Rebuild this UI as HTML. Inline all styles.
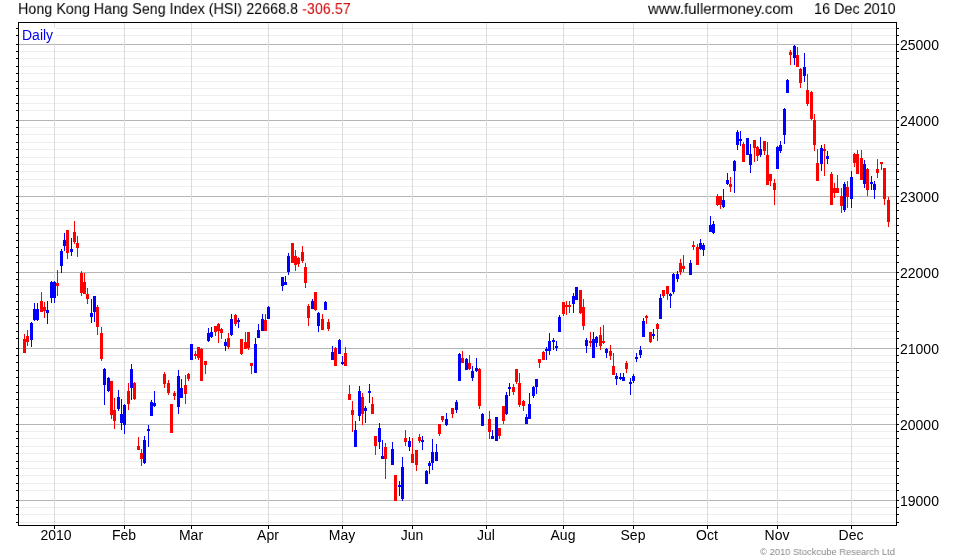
<!DOCTYPE html>
<html><head><meta charset="utf-8"><style>
html,body{margin:0;padding:0;background:#fff;}
body{width:980px;height:560px;position:relative;overflow:hidden;font-family:"Liberation Sans",sans-serif;color:#000;}
svg{position:absolute;left:0;top:0;shape-rendering:crispEdges;}
.t{position:absolute;will-change:transform;font-size:15px;line-height:15px;white-space:nowrap;}
.yl{position:absolute;will-change:transform;left:900px;font-size:14px;line-height:15px;}
.xl{position:absolute;will-change:transform;top:528px;width:60px;text-align:center;font-size:14px;line-height:15px;}
</style></head><body>
<svg width="980" height="560" viewBox="0 0 980 560">
<rect x="19" y="51" width="877" height="1" fill="#eeeeee"/>
<rect x="19" y="58" width="877" height="1" fill="#eeeeee"/>
<rect x="19" y="66" width="877" height="1" fill="#eeeeee"/>
<rect x="19" y="73" width="877" height="1" fill="#eeeeee"/>
<rect x="19" y="81" width="877" height="1" fill="#eeeeee"/>
<rect x="19" y="88" width="877" height="1" fill="#eeeeee"/>
<rect x="19" y="95" width="877" height="1" fill="#eeeeee"/>
<rect x="19" y="103" width="877" height="1" fill="#eeeeee"/>
<rect x="19" y="110" width="877" height="1" fill="#eeeeee"/>
<rect x="19" y="127" width="877" height="1" fill="#eeeeee"/>
<rect x="19" y="134" width="877" height="1" fill="#eeeeee"/>
<rect x="19" y="142" width="877" height="1" fill="#eeeeee"/>
<rect x="19" y="149" width="877" height="1" fill="#eeeeee"/>
<rect x="19" y="157" width="877" height="1" fill="#eeeeee"/>
<rect x="19" y="164" width="877" height="1" fill="#eeeeee"/>
<rect x="19" y="171" width="877" height="1" fill="#eeeeee"/>
<rect x="19" y="179" width="877" height="1" fill="#eeeeee"/>
<rect x="19" y="186" width="877" height="1" fill="#eeeeee"/>
<rect x="19" y="203" width="877" height="1" fill="#eeeeee"/>
<rect x="19" y="210" width="877" height="1" fill="#eeeeee"/>
<rect x="19" y="218" width="877" height="1" fill="#eeeeee"/>
<rect x="19" y="225" width="877" height="1" fill="#eeeeee"/>
<rect x="19" y="233" width="877" height="1" fill="#eeeeee"/>
<rect x="19" y="240" width="877" height="1" fill="#eeeeee"/>
<rect x="19" y="247" width="877" height="1" fill="#eeeeee"/>
<rect x="19" y="255" width="877" height="1" fill="#eeeeee"/>
<rect x="19" y="262" width="877" height="1" fill="#eeeeee"/>
<rect x="19" y="279" width="877" height="1" fill="#eeeeee"/>
<rect x="19" y="286" width="877" height="1" fill="#eeeeee"/>
<rect x="19" y="294" width="877" height="1" fill="#eeeeee"/>
<rect x="19" y="301" width="877" height="1" fill="#eeeeee"/>
<rect x="19" y="309" width="877" height="1" fill="#eeeeee"/>
<rect x="19" y="316" width="877" height="1" fill="#eeeeee"/>
<rect x="19" y="323" width="877" height="1" fill="#eeeeee"/>
<rect x="19" y="331" width="877" height="1" fill="#eeeeee"/>
<rect x="19" y="338" width="877" height="1" fill="#eeeeee"/>
<rect x="19" y="355" width="877" height="1" fill="#eeeeee"/>
<rect x="19" y="362" width="877" height="1" fill="#eeeeee"/>
<rect x="19" y="370" width="877" height="1" fill="#eeeeee"/>
<rect x="19" y="377" width="877" height="1" fill="#eeeeee"/>
<rect x="19" y="385" width="877" height="1" fill="#eeeeee"/>
<rect x="19" y="392" width="877" height="1" fill="#eeeeee"/>
<rect x="19" y="399" width="877" height="1" fill="#eeeeee"/>
<rect x="19" y="407" width="877" height="1" fill="#eeeeee"/>
<rect x="19" y="414" width="877" height="1" fill="#eeeeee"/>
<rect x="19" y="431" width="877" height="1" fill="#eeeeee"/>
<rect x="19" y="438" width="877" height="1" fill="#eeeeee"/>
<rect x="19" y="446" width="877" height="1" fill="#eeeeee"/>
<rect x="19" y="453" width="877" height="1" fill="#eeeeee"/>
<rect x="19" y="461" width="877" height="1" fill="#eeeeee"/>
<rect x="19" y="468" width="877" height="1" fill="#eeeeee"/>
<rect x="19" y="475" width="877" height="1" fill="#eeeeee"/>
<rect x="19" y="483" width="877" height="1" fill="#eeeeee"/>
<rect x="19" y="490" width="877" height="1" fill="#eeeeee"/>
<rect x="19" y="28" width="877" height="1" fill="#eeeeee"/>
<rect x="19" y="35" width="877" height="1" fill="#eeeeee"/>
<rect x="19" y="507" width="877" height="1" fill="#eeeeee"/>
<rect x="19" y="514" width="877" height="1" fill="#eeeeee"/>
<rect x="19" y="522" width="877" height="1" fill="#eeeeee"/>
<rect x="19" y="44" width="877" height="1" fill="#b4b4b4"/>
<rect x="19" y="120" width="877" height="1" fill="#b4b4b4"/>
<rect x="19" y="196" width="877" height="1" fill="#b4b4b4"/>
<rect x="19" y="272" width="877" height="1" fill="#b4b4b4"/>
<rect x="19" y="348" width="877" height="1" fill="#b4b4b4"/>
<rect x="19" y="424" width="877" height="1" fill="#b4b4b4"/>
<rect x="19" y="500" width="877" height="1" fill="#b4b4b4"/>
<rect x="54" y="23" width="1" height="502" fill="#dcdcdc"/>
<rect x="124" y="23" width="1" height="502" fill="#dcdcdc"/>
<rect x="191" y="23" width="1" height="502" fill="#dcdcdc"/>
<rect x="268" y="23" width="1" height="502" fill="#dcdcdc"/>
<rect x="342" y="23" width="1" height="502" fill="#dcdcdc"/>
<rect x="412" y="23" width="1" height="502" fill="#dcdcdc"/>
<rect x="486" y="23" width="1" height="502" fill="#dcdcdc"/>
<rect x="563" y="23" width="1" height="502" fill="#dcdcdc"/>
<rect x="633" y="23" width="1" height="502" fill="#dcdcdc"/>
<rect x="707" y="23" width="1" height="502" fill="#dcdcdc"/>
<rect x="777" y="23" width="1" height="502" fill="#dcdcdc"/>
<rect x="851" y="23" width="1" height="502" fill="#dcdcdc"/>
<rect x="19" y="28" width="37" height="15" fill="#fff"/>
<rect x="16" y="51" width="2" height="1" fill="#000"/>
<rect x="897" y="51" width="2" height="1" fill="#000"/>
<rect x="16" y="58" width="2" height="1" fill="#000"/>
<rect x="897" y="58" width="2" height="1" fill="#000"/>
<rect x="16" y="66" width="2" height="1" fill="#000"/>
<rect x="897" y="66" width="2" height="1" fill="#000"/>
<rect x="16" y="73" width="2" height="1" fill="#000"/>
<rect x="897" y="73" width="2" height="1" fill="#000"/>
<rect x="16" y="81" width="2" height="1" fill="#000"/>
<rect x="897" y="81" width="2" height="1" fill="#000"/>
<rect x="16" y="88" width="2" height="1" fill="#000"/>
<rect x="897" y="88" width="2" height="1" fill="#000"/>
<rect x="16" y="95" width="2" height="1" fill="#000"/>
<rect x="897" y="95" width="2" height="1" fill="#000"/>
<rect x="16" y="103" width="2" height="1" fill="#000"/>
<rect x="897" y="103" width="2" height="1" fill="#000"/>
<rect x="16" y="110" width="2" height="1" fill="#000"/>
<rect x="897" y="110" width="2" height="1" fill="#000"/>
<rect x="16" y="127" width="2" height="1" fill="#000"/>
<rect x="897" y="127" width="2" height="1" fill="#000"/>
<rect x="16" y="134" width="2" height="1" fill="#000"/>
<rect x="897" y="134" width="2" height="1" fill="#000"/>
<rect x="16" y="142" width="2" height="1" fill="#000"/>
<rect x="897" y="142" width="2" height="1" fill="#000"/>
<rect x="16" y="149" width="2" height="1" fill="#000"/>
<rect x="897" y="149" width="2" height="1" fill="#000"/>
<rect x="16" y="157" width="2" height="1" fill="#000"/>
<rect x="897" y="157" width="2" height="1" fill="#000"/>
<rect x="16" y="164" width="2" height="1" fill="#000"/>
<rect x="897" y="164" width="2" height="1" fill="#000"/>
<rect x="16" y="171" width="2" height="1" fill="#000"/>
<rect x="897" y="171" width="2" height="1" fill="#000"/>
<rect x="16" y="179" width="2" height="1" fill="#000"/>
<rect x="897" y="179" width="2" height="1" fill="#000"/>
<rect x="16" y="186" width="2" height="1" fill="#000"/>
<rect x="897" y="186" width="2" height="1" fill="#000"/>
<rect x="16" y="203" width="2" height="1" fill="#000"/>
<rect x="897" y="203" width="2" height="1" fill="#000"/>
<rect x="16" y="210" width="2" height="1" fill="#000"/>
<rect x="897" y="210" width="2" height="1" fill="#000"/>
<rect x="16" y="218" width="2" height="1" fill="#000"/>
<rect x="897" y="218" width="2" height="1" fill="#000"/>
<rect x="16" y="225" width="2" height="1" fill="#000"/>
<rect x="897" y="225" width="2" height="1" fill="#000"/>
<rect x="16" y="233" width="2" height="1" fill="#000"/>
<rect x="897" y="233" width="2" height="1" fill="#000"/>
<rect x="16" y="240" width="2" height="1" fill="#000"/>
<rect x="897" y="240" width="2" height="1" fill="#000"/>
<rect x="16" y="247" width="2" height="1" fill="#000"/>
<rect x="897" y="247" width="2" height="1" fill="#000"/>
<rect x="16" y="255" width="2" height="1" fill="#000"/>
<rect x="897" y="255" width="2" height="1" fill="#000"/>
<rect x="16" y="262" width="2" height="1" fill="#000"/>
<rect x="897" y="262" width="2" height="1" fill="#000"/>
<rect x="16" y="279" width="2" height="1" fill="#000"/>
<rect x="897" y="279" width="2" height="1" fill="#000"/>
<rect x="16" y="286" width="2" height="1" fill="#000"/>
<rect x="897" y="286" width="2" height="1" fill="#000"/>
<rect x="16" y="294" width="2" height="1" fill="#000"/>
<rect x="897" y="294" width="2" height="1" fill="#000"/>
<rect x="16" y="301" width="2" height="1" fill="#000"/>
<rect x="897" y="301" width="2" height="1" fill="#000"/>
<rect x="16" y="309" width="2" height="1" fill="#000"/>
<rect x="897" y="309" width="2" height="1" fill="#000"/>
<rect x="16" y="316" width="2" height="1" fill="#000"/>
<rect x="897" y="316" width="2" height="1" fill="#000"/>
<rect x="16" y="323" width="2" height="1" fill="#000"/>
<rect x="897" y="323" width="2" height="1" fill="#000"/>
<rect x="16" y="331" width="2" height="1" fill="#000"/>
<rect x="897" y="331" width="2" height="1" fill="#000"/>
<rect x="16" y="338" width="2" height="1" fill="#000"/>
<rect x="897" y="338" width="2" height="1" fill="#000"/>
<rect x="16" y="355" width="2" height="1" fill="#000"/>
<rect x="897" y="355" width="2" height="1" fill="#000"/>
<rect x="16" y="362" width="2" height="1" fill="#000"/>
<rect x="897" y="362" width="2" height="1" fill="#000"/>
<rect x="16" y="370" width="2" height="1" fill="#000"/>
<rect x="897" y="370" width="2" height="1" fill="#000"/>
<rect x="16" y="377" width="2" height="1" fill="#000"/>
<rect x="897" y="377" width="2" height="1" fill="#000"/>
<rect x="16" y="385" width="2" height="1" fill="#000"/>
<rect x="897" y="385" width="2" height="1" fill="#000"/>
<rect x="16" y="392" width="2" height="1" fill="#000"/>
<rect x="897" y="392" width="2" height="1" fill="#000"/>
<rect x="16" y="399" width="2" height="1" fill="#000"/>
<rect x="897" y="399" width="2" height="1" fill="#000"/>
<rect x="16" y="407" width="2" height="1" fill="#000"/>
<rect x="897" y="407" width="2" height="1" fill="#000"/>
<rect x="16" y="414" width="2" height="1" fill="#000"/>
<rect x="897" y="414" width="2" height="1" fill="#000"/>
<rect x="16" y="431" width="2" height="1" fill="#000"/>
<rect x="897" y="431" width="2" height="1" fill="#000"/>
<rect x="16" y="438" width="2" height="1" fill="#000"/>
<rect x="897" y="438" width="2" height="1" fill="#000"/>
<rect x="16" y="446" width="2" height="1" fill="#000"/>
<rect x="897" y="446" width="2" height="1" fill="#000"/>
<rect x="16" y="453" width="2" height="1" fill="#000"/>
<rect x="897" y="453" width="2" height="1" fill="#000"/>
<rect x="16" y="461" width="2" height="1" fill="#000"/>
<rect x="897" y="461" width="2" height="1" fill="#000"/>
<rect x="16" y="468" width="2" height="1" fill="#000"/>
<rect x="897" y="468" width="2" height="1" fill="#000"/>
<rect x="16" y="475" width="2" height="1" fill="#000"/>
<rect x="897" y="475" width="2" height="1" fill="#000"/>
<rect x="16" y="483" width="2" height="1" fill="#000"/>
<rect x="897" y="483" width="2" height="1" fill="#000"/>
<rect x="16" y="490" width="2" height="1" fill="#000"/>
<rect x="897" y="490" width="2" height="1" fill="#000"/>
<rect x="16" y="28" width="2" height="1" fill="#000"/>
<rect x="897" y="28" width="2" height="1" fill="#000"/>
<rect x="16" y="35" width="2" height="1" fill="#000"/>
<rect x="897" y="35" width="2" height="1" fill="#000"/>
<rect x="16" y="507" width="2" height="1" fill="#000"/>
<rect x="897" y="507" width="2" height="1" fill="#000"/>
<rect x="16" y="514" width="2" height="1" fill="#000"/>
<rect x="897" y="514" width="2" height="1" fill="#000"/>
<rect x="16" y="522" width="2" height="1" fill="#000"/>
<rect x="897" y="522" width="2" height="1" fill="#000"/>
<rect x="16" y="44" width="2" height="1" fill="#000"/>
<rect x="897" y="44" width="2" height="1" fill="#000"/>
<rect x="16" y="120" width="2" height="1" fill="#000"/>
<rect x="897" y="120" width="2" height="1" fill="#000"/>
<rect x="16" y="196" width="2" height="1" fill="#000"/>
<rect x="897" y="196" width="2" height="1" fill="#000"/>
<rect x="16" y="272" width="2" height="1" fill="#000"/>
<rect x="897" y="272" width="2" height="1" fill="#000"/>
<rect x="16" y="348" width="2" height="1" fill="#000"/>
<rect x="897" y="348" width="2" height="1" fill="#000"/>
<rect x="16" y="424" width="2" height="1" fill="#000"/>
<rect x="897" y="424" width="2" height="1" fill="#000"/>
<rect x="16" y="500" width="2" height="1" fill="#000"/>
<rect x="897" y="500" width="2" height="1" fill="#000"/>
<rect x="54" y="526" width="1" height="3" fill="#000"/>
<rect x="124" y="526" width="1" height="3" fill="#000"/>
<rect x="191" y="526" width="1" height="3" fill="#000"/>
<rect x="268" y="526" width="1" height="3" fill="#000"/>
<rect x="342" y="526" width="1" height="3" fill="#000"/>
<rect x="412" y="526" width="1" height="3" fill="#000"/>
<rect x="486" y="526" width="1" height="3" fill="#000"/>
<rect x="563" y="526" width="1" height="3" fill="#000"/>
<rect x="633" y="526" width="1" height="3" fill="#000"/>
<rect x="707" y="526" width="1" height="3" fill="#000"/>
<rect x="777" y="526" width="1" height="3" fill="#000"/>
<rect x="851" y="526" width="1" height="3" fill="#000"/>
<rect x="18" y="22" width="879" height="1" fill="#000"/>
<rect x="18" y="525" width="879" height="1" fill="#000"/>
<rect x="18" y="22" width="1" height="504" fill="#000"/>
<rect x="896" y="22" width="1" height="504" fill="#000"/>
<rect x="24" y="334" width="1" height="19" fill="#ff0000"/>
<rect x="23" y="339" width="3" height="14" fill="#ff0000"/>
<rect x="27" y="330" width="1" height="16" fill="#ff0000"/>
<rect x="26" y="336" width="3" height="6" fill="#ff0000"/>
<rect x="31" y="322" width="1" height="25" fill="#0000ff"/>
<rect x="30" y="323" width="3" height="17" fill="#0000ff"/>
<rect x="34" y="303" width="1" height="18" fill="#0000ff"/>
<rect x="33" y="309" width="3" height="11" fill="#0000ff"/>
<rect x="37" y="303" width="1" height="18" fill="#0000ff"/>
<rect x="36" y="309" width="3" height="11" fill="#0000ff"/>
<rect x="41" y="292" width="1" height="20" fill="#ff0000"/>
<rect x="40" y="301" width="3" height="11" fill="#ff0000"/>
<rect x="44" y="302" width="1" height="16" fill="#ff0000"/>
<rect x="43" y="307" width="3" height="4" fill="#ff0000"/>
<rect x="47" y="301" width="1" height="23" fill="#0000ff"/>
<rect x="46" y="310" width="3" height="3" fill="#0000ff"/>
<rect x="51" y="281" width="1" height="22" fill="#0000ff"/>
<rect x="50" y="282" width="3" height="16" fill="#0000ff"/>
<rect x="54" y="281" width="1" height="22" fill="#0000ff"/>
<rect x="53" y="282" width="3" height="16" fill="#0000ff"/>
<rect x="57" y="270" width="1" height="26" fill="#ff0000"/>
<rect x="56" y="283" width="3" height="3" fill="#ff0000"/>
<rect x="61" y="249" width="1" height="24" fill="#0000ff"/>
<rect x="60" y="251" width="3" height="15" fill="#0000ff"/>
<rect x="64" y="233" width="1" height="18" fill="#0000ff"/>
<rect x="63" y="240" width="3" height="6" fill="#0000ff"/>
<rect x="67" y="230" width="1" height="29" fill="#ff0000"/>
<rect x="66" y="230" width="3" height="23" fill="#ff0000"/>
<rect x="71" y="238" width="1" height="18" fill="#0000ff"/>
<rect x="70" y="249" width="3" height="3" fill="#0000ff"/>
<rect x="74" y="221" width="1" height="23" fill="#ff0000"/>
<rect x="73" y="232" width="3" height="10" fill="#ff0000"/>
<rect x="77" y="236" width="1" height="21" fill="#ff0000"/>
<rect x="76" y="243" width="3" height="5" fill="#ff0000"/>
<rect x="81" y="271" width="1" height="25" fill="#ff0000"/>
<rect x="80" y="273" width="3" height="20" fill="#ff0000"/>
<rect x="84" y="273" width="1" height="21" fill="#ff0000"/>
<rect x="83" y="282" width="3" height="12" fill="#ff0000"/>
<rect x="87" y="288" width="1" height="16" fill="#ff0000"/>
<rect x="86" y="294" width="3" height="5" fill="#ff0000"/>
<rect x="91" y="299" width="1" height="24" fill="#0000ff"/>
<rect x="90" y="313" width="3" height="4" fill="#0000ff"/>
<rect x="94" y="296" width="1" height="26" fill="#0000ff"/>
<rect x="93" y="296" width="3" height="16" fill="#0000ff"/>
<rect x="97" y="305" width="1" height="30" fill="#ff0000"/>
<rect x="96" y="307" width="3" height="20" fill="#ff0000"/>
<rect x="101" y="327" width="1" height="34" fill="#ff0000"/>
<rect x="100" y="333" width="3" height="26" fill="#ff0000"/>
<rect x="104" y="368" width="1" height="37" fill="#0000ff"/>
<rect x="103" y="369" width="3" height="16" fill="#0000ff"/>
<rect x="108" y="377" width="1" height="15" fill="#0000ff"/>
<rect x="107" y="378" width="3" height="13" fill="#0000ff"/>
<rect x="111" y="381" width="1" height="38" fill="#ff0000"/>
<rect x="110" y="381" width="3" height="34" fill="#ff0000"/>
<rect x="114" y="398" width="1" height="31" fill="#ff0000"/>
<rect x="113" y="410" width="3" height="11" fill="#ff0000"/>
<rect x="118" y="390" width="1" height="21" fill="#0000ff"/>
<rect x="117" y="397" width="3" height="12" fill="#0000ff"/>
<rect x="121" y="399" width="1" height="31" fill="#0000ff"/>
<rect x="120" y="414" width="3" height="9" fill="#0000ff"/>
<rect x="124" y="404" width="1" height="30" fill="#0000ff"/>
<rect x="123" y="405" width="3" height="20" fill="#0000ff"/>
<rect x="128" y="383" width="1" height="27" fill="#ff0000"/>
<rect x="127" y="391" width="3" height="13" fill="#ff0000"/>
<rect x="131" y="364" width="1" height="36" fill="#0000ff"/>
<rect x="130" y="369" width="3" height="19" fill="#0000ff"/>
<rect x="134" y="382" width="1" height="18" fill="#ff0000"/>
<rect x="133" y="383" width="3" height="16" fill="#ff0000"/>
<rect x="138" y="437" width="1" height="13" fill="#ff0000"/>
<rect x="137" y="446" width="3" height="4" fill="#ff0000"/>
<rect x="141" y="449" width="1" height="17" fill="#ff0000"/>
<rect x="140" y="453" width="3" height="6" fill="#ff0000"/>
<rect x="144" y="436" width="1" height="28" fill="#0000ff"/>
<rect x="143" y="440" width="3" height="23" fill="#0000ff"/>
<rect x="148" y="425" width="1" height="22" fill="#0000ff"/>
<rect x="147" y="429" width="3" height="2" fill="#0000ff"/>
<rect x="151" y="400" width="1" height="16" fill="#0000ff"/>
<rect x="150" y="402" width="3" height="14" fill="#0000ff"/>
<rect x="154" y="391" width="1" height="16" fill="#0000ff"/>
<rect x="153" y="403" width="3" height="3" fill="#0000ff"/>
<rect x="164" y="372" width="1" height="16" fill="#ff0000"/>
<rect x="163" y="374" width="3" height="10" fill="#ff0000"/>
<rect x="168" y="380" width="1" height="15" fill="#ff0000"/>
<rect x="167" y="383" width="3" height="10" fill="#ff0000"/>
<rect x="171" y="404" width="1" height="29" fill="#ff0000"/>
<rect x="170" y="404" width="3" height="29" fill="#ff0000"/>
<rect x="174" y="391" width="1" height="9" fill="#ff0000"/>
<rect x="173" y="393" width="3" height="3" fill="#ff0000"/>
<rect x="178" y="370" width="1" height="44" fill="#0000ff"/>
<rect x="177" y="376" width="3" height="31" fill="#0000ff"/>
<rect x="181" y="379" width="1" height="19" fill="#0000ff"/>
<rect x="180" y="388" width="3" height="10" fill="#0000ff"/>
<rect x="185" y="375" width="1" height="29" fill="#ff0000"/>
<rect x="184" y="385" width="3" height="9" fill="#ff0000"/>
<rect x="188" y="373" width="1" height="8" fill="#ff0000"/>
<rect x="187" y="374" width="3" height="5" fill="#ff0000"/>
<rect x="191" y="344" width="1" height="16" fill="#0000ff"/>
<rect x="190" y="344" width="3" height="16" fill="#0000ff"/>
<rect x="195" y="351" width="1" height="8" fill="#ff0000"/>
<rect x="194" y="354" width="3" height="2" fill="#ff0000"/>
<rect x="198" y="347" width="1" height="13" fill="#ff0000"/>
<rect x="197" y="347" width="3" height="11" fill="#ff0000"/>
<rect x="201" y="348" width="1" height="33" fill="#ff0000"/>
<rect x="200" y="349" width="3" height="32" fill="#ff0000"/>
<rect x="205" y="361" width="1" height="13" fill="#ff0000"/>
<rect x="204" y="361" width="3" height="4" fill="#ff0000"/>
<rect x="208" y="328" width="1" height="14" fill="#0000ff"/>
<rect x="207" y="333" width="3" height="8" fill="#0000ff"/>
<rect x="211" y="327" width="1" height="11" fill="#0000ff"/>
<rect x="210" y="332" width="3" height="5" fill="#0000ff"/>
<rect x="215" y="326" width="1" height="10" fill="#ff0000"/>
<rect x="214" y="326" width="3" height="6" fill="#ff0000"/>
<rect x="218" y="323" width="1" height="20" fill="#ff0000"/>
<rect x="217" y="324" width="3" height="7" fill="#ff0000"/>
<rect x="221" y="328" width="1" height="11" fill="#ff0000"/>
<rect x="220" y="329" width="3" height="4" fill="#ff0000"/>
<rect x="225" y="339" width="1" height="12" fill="#0000ff"/>
<rect x="224" y="342" width="3" height="4" fill="#0000ff"/>
<rect x="228" y="333" width="1" height="16" fill="#ff0000"/>
<rect x="227" y="338" width="3" height="9" fill="#ff0000"/>
<rect x="231" y="314" width="1" height="22" fill="#0000ff"/>
<rect x="230" y="319" width="3" height="16" fill="#0000ff"/>
<rect x="235" y="314" width="1" height="12" fill="#ff0000"/>
<rect x="234" y="315" width="3" height="9" fill="#ff0000"/>
<rect x="238" y="318" width="1" height="10" fill="#0000ff"/>
<rect x="237" y="320" width="3" height="2" fill="#0000ff"/>
<rect x="241" y="339" width="1" height="16" fill="#ff0000"/>
<rect x="240" y="339" width="3" height="15" fill="#ff0000"/>
<rect x="245" y="332" width="1" height="17" fill="#ff0000"/>
<rect x="244" y="342" width="3" height="7" fill="#ff0000"/>
<rect x="248" y="332" width="1" height="18" fill="#ff0000"/>
<rect x="247" y="332" width="3" height="16" fill="#ff0000"/>
<rect x="251" y="363" width="1" height="11" fill="#ff0000"/>
<rect x="250" y="363" width="3" height="3" fill="#ff0000"/>
<rect x="255" y="338" width="1" height="35" fill="#0000ff"/>
<rect x="254" y="344" width="3" height="29" fill="#0000ff"/>
<rect x="258" y="324" width="1" height="14" fill="#0000ff"/>
<rect x="257" y="330" width="3" height="8" fill="#0000ff"/>
<rect x="262" y="314" width="1" height="17" fill="#0000ff"/>
<rect x="261" y="319" width="3" height="12" fill="#0000ff"/>
<rect x="265" y="314" width="1" height="17" fill="#ff0000"/>
<rect x="264" y="320" width="3" height="11" fill="#ff0000"/>
<rect x="268" y="306" width="1" height="13" fill="#0000ff"/>
<rect x="267" y="307" width="3" height="12" fill="#0000ff"/>
<rect x="282" y="277" width="1" height="14" fill="#0000ff"/>
<rect x="281" y="277" width="3" height="9" fill="#0000ff"/>
<rect x="285" y="276" width="1" height="9" fill="#0000ff"/>
<rect x="284" y="282" width="3" height="3" fill="#0000ff"/>
<rect x="288" y="253" width="1" height="22" fill="#0000ff"/>
<rect x="287" y="256" width="3" height="16" fill="#0000ff"/>
<rect x="292" y="243" width="1" height="20" fill="#ff0000"/>
<rect x="291" y="243" width="3" height="20" fill="#ff0000"/>
<rect x="295" y="250" width="1" height="21" fill="#ff0000"/>
<rect x="294" y="256" width="3" height="9" fill="#ff0000"/>
<rect x="298" y="257" width="1" height="10" fill="#ff0000"/>
<rect x="297" y="258" width="3" height="6" fill="#ff0000"/>
<rect x="302" y="246" width="1" height="17" fill="#ff0000"/>
<rect x="301" y="252" width="3" height="9" fill="#ff0000"/>
<rect x="305" y="263" width="1" height="25" fill="#ff0000"/>
<rect x="304" y="267" width="3" height="16" fill="#ff0000"/>
<rect x="308" y="304" width="1" height="22" fill="#ff0000"/>
<rect x="307" y="306" width="3" height="12" fill="#ff0000"/>
<rect x="312" y="299" width="1" height="10" fill="#0000ff"/>
<rect x="311" y="301" width="3" height="8" fill="#0000ff"/>
<rect x="315" y="292" width="1" height="19" fill="#ff0000"/>
<rect x="314" y="292" width="3" height="18" fill="#ff0000"/>
<rect x="318" y="312" width="1" height="20" fill="#0000ff"/>
<rect x="317" y="313" width="3" height="13" fill="#0000ff"/>
<rect x="322" y="314" width="1" height="16" fill="#ff0000"/>
<rect x="321" y="319" width="3" height="11" fill="#ff0000"/>
<rect x="325" y="301" width="1" height="9" fill="#0000ff"/>
<rect x="324" y="302" width="3" height="8" fill="#0000ff"/>
<rect x="328" y="319" width="1" height="12" fill="#ff0000"/>
<rect x="327" y="322" width="3" height="7" fill="#ff0000"/>
<rect x="332" y="346" width="1" height="14" fill="#0000ff"/>
<rect x="331" y="352" width="3" height="8" fill="#0000ff"/>
<rect x="335" y="347" width="1" height="19" fill="#ff0000"/>
<rect x="334" y="348" width="3" height="18" fill="#ff0000"/>
<rect x="339" y="339" width="1" height="15" fill="#0000ff"/>
<rect x="338" y="340" width="3" height="14" fill="#0000ff"/>
<rect x="342" y="356" width="1" height="9" fill="#0000ff"/>
<rect x="341" y="362" width="3" height="2" fill="#0000ff"/>
<rect x="345" y="347" width="1" height="19" fill="#ff0000"/>
<rect x="344" y="353" width="3" height="13" fill="#ff0000"/>
<rect x="349" y="385" width="1" height="15" fill="#ff0000"/>
<rect x="348" y="394" width="3" height="6" fill="#ff0000"/>
<rect x="352" y="401" width="1" height="31" fill="#ff0000"/>
<rect x="351" y="410" width="3" height="5" fill="#ff0000"/>
<rect x="355" y="421" width="1" height="26" fill="#0000ff"/>
<rect x="354" y="430" width="3" height="17" fill="#0000ff"/>
<rect x="359" y="386" width="1" height="35" fill="#0000ff"/>
<rect x="358" y="391" width="3" height="25" fill="#0000ff"/>
<rect x="362" y="393" width="1" height="32" fill="#ff0000"/>
<rect x="361" y="397" width="3" height="17" fill="#ff0000"/>
<rect x="365" y="406" width="1" height="17" fill="#0000ff"/>
<rect x="364" y="408" width="3" height="3" fill="#0000ff"/>
<rect x="369" y="384" width="1" height="19" fill="#0000ff"/>
<rect x="368" y="391" width="3" height="2" fill="#0000ff"/>
<rect x="372" y="397" width="1" height="17" fill="#ff0000"/>
<rect x="371" y="404" width="3" height="10" fill="#ff0000"/>
<rect x="375" y="436" width="1" height="19" fill="#ff0000"/>
<rect x="374" y="436" width="3" height="10" fill="#ff0000"/>
<rect x="379" y="423" width="1" height="26" fill="#0000ff"/>
<rect x="378" y="428" width="3" height="14" fill="#0000ff"/>
<rect x="382" y="440" width="1" height="19" fill="#0000ff"/>
<rect x="381" y="456" width="3" height="3" fill="#0000ff"/>
<rect x="385" y="443" width="1" height="36" fill="#ff0000"/>
<rect x="384" y="447" width="3" height="12" fill="#ff0000"/>
<rect x="392" y="442" width="1" height="23" fill="#0000ff"/>
<rect x="391" y="449" width="3" height="16" fill="#0000ff"/>
<rect x="395" y="475" width="1" height="26" fill="#ff0000"/>
<rect x="394" y="475" width="3" height="26" fill="#ff0000"/>
<rect x="399" y="481" width="1" height="15" fill="#0000ff"/>
<rect x="398" y="485" width="3" height="2" fill="#0000ff"/>
<rect x="402" y="457" width="1" height="44" fill="#0000ff"/>
<rect x="401" y="467" width="3" height="32" fill="#0000ff"/>
<rect x="405" y="430" width="1" height="16" fill="#ff0000"/>
<rect x="404" y="438" width="3" height="4" fill="#ff0000"/>
<rect x="409" y="437" width="1" height="14" fill="#0000ff"/>
<rect x="408" y="441" width="3" height="6" fill="#0000ff"/>
<rect x="412" y="438" width="1" height="25" fill="#ff0000"/>
<rect x="411" y="454" width="3" height="9" fill="#ff0000"/>
<rect x="416" y="450" width="1" height="21" fill="#ff0000"/>
<rect x="415" y="450" width="3" height="15" fill="#ff0000"/>
<rect x="419" y="434" width="1" height="9" fill="#ff0000"/>
<rect x="418" y="437" width="3" height="4" fill="#ff0000"/>
<rect x="422" y="436" width="1" height="14" fill="#0000ff"/>
<rect x="421" y="440" width="3" height="2" fill="#0000ff"/>
<rect x="426" y="470" width="1" height="14" fill="#0000ff"/>
<rect x="425" y="471" width="3" height="13" fill="#0000ff"/>
<rect x="429" y="461" width="1" height="13" fill="#0000ff"/>
<rect x="428" y="463" width="3" height="3" fill="#0000ff"/>
<rect x="432" y="439" width="1" height="31" fill="#0000ff"/>
<rect x="431" y="452" width="3" height="11" fill="#0000ff"/>
<rect x="436" y="444" width="1" height="17" fill="#0000ff"/>
<rect x="435" y="452" width="3" height="9" fill="#0000ff"/>
<rect x="439" y="424" width="1" height="12" fill="#ff0000"/>
<rect x="438" y="424" width="3" height="10" fill="#ff0000"/>
<rect x="442" y="416" width="1" height="6" fill="#ff0000"/>
<rect x="441" y="416" width="3" height="4" fill="#ff0000"/>
<rect x="446" y="413" width="1" height="13" fill="#0000ff"/>
<rect x="445" y="419" width="3" height="6" fill="#0000ff"/>
<rect x="452" y="408" width="1" height="10" fill="#ff0000"/>
<rect x="451" y="408" width="3" height="6" fill="#ff0000"/>
<rect x="456" y="400" width="1" height="13" fill="#0000ff"/>
<rect x="455" y="402" width="3" height="8" fill="#0000ff"/>
<rect x="459" y="353" width="1" height="28" fill="#0000ff"/>
<rect x="458" y="354" width="3" height="27" fill="#0000ff"/>
<rect x="462" y="351" width="1" height="12" fill="#ff0000"/>
<rect x="461" y="358" width="3" height="5" fill="#ff0000"/>
<rect x="466" y="358" width="1" height="12" fill="#0000ff"/>
<rect x="465" y="359" width="3" height="11" fill="#0000ff"/>
<rect x="469" y="355" width="1" height="15" fill="#ff0000"/>
<rect x="468" y="363" width="3" height="6" fill="#ff0000"/>
<rect x="472" y="366" width="1" height="15" fill="#0000ff"/>
<rect x="471" y="371" width="3" height="7" fill="#0000ff"/>
<rect x="476" y="358" width="1" height="14" fill="#0000ff"/>
<rect x="475" y="368" width="3" height="3" fill="#0000ff"/>
<rect x="479" y="368" width="1" height="41" fill="#ff0000"/>
<rect x="478" y="369" width="3" height="37" fill="#ff0000"/>
<rect x="482" y="413" width="1" height="13" fill="#0000ff"/>
<rect x="481" y="414" width="3" height="12" fill="#0000ff"/>
<rect x="489" y="411" width="1" height="28" fill="#ff0000"/>
<rect x="488" y="419" width="3" height="13" fill="#ff0000"/>
<rect x="492" y="430" width="1" height="9" fill="#0000ff"/>
<rect x="491" y="436" width="3" height="3" fill="#0000ff"/>
<rect x="496" y="417" width="1" height="24" fill="#0000ff"/>
<rect x="495" y="417" width="3" height="24" fill="#0000ff"/>
<rect x="499" y="428" width="1" height="11" fill="#ff0000"/>
<rect x="498" y="428" width="3" height="8" fill="#ff0000"/>
<rect x="503" y="406" width="1" height="18" fill="#ff0000"/>
<rect x="502" y="406" width="3" height="15" fill="#ff0000"/>
<rect x="506" y="392" width="1" height="23" fill="#0000ff"/>
<rect x="505" y="395" width="3" height="19" fill="#0000ff"/>
<rect x="509" y="383" width="1" height="13" fill="#0000ff"/>
<rect x="508" y="387" width="3" height="2" fill="#0000ff"/>
<rect x="513" y="384" width="1" height="11" fill="#ff0000"/>
<rect x="512" y="387" width="3" height="5" fill="#ff0000"/>
<rect x="516" y="369" width="1" height="15" fill="#ff0000"/>
<rect x="515" y="369" width="3" height="13" fill="#ff0000"/>
<rect x="519" y="373" width="1" height="34" fill="#ff0000"/>
<rect x="518" y="383" width="3" height="22" fill="#ff0000"/>
<rect x="523" y="400" width="1" height="11" fill="#ff0000"/>
<rect x="522" y="401" width="3" height="5" fill="#ff0000"/>
<rect x="526" y="414" width="1" height="10" fill="#0000ff"/>
<rect x="525" y="417" width="3" height="7" fill="#0000ff"/>
<rect x="529" y="393" width="1" height="26" fill="#0000ff"/>
<rect x="528" y="404" width="3" height="15" fill="#0000ff"/>
<rect x="533" y="386" width="1" height="12" fill="#0000ff"/>
<rect x="532" y="387" width="3" height="9" fill="#0000ff"/>
<rect x="536" y="379" width="1" height="15" fill="#0000ff"/>
<rect x="535" y="379" width="3" height="8" fill="#0000ff"/>
<rect x="539" y="359" width="1" height="9" fill="#ff0000"/>
<rect x="538" y="359" width="3" height="4" fill="#ff0000"/>
<rect x="543" y="351" width="1" height="9" fill="#ff0000"/>
<rect x="542" y="352" width="3" height="8" fill="#ff0000"/>
<rect x="546" y="347" width="1" height="13" fill="#0000ff"/>
<rect x="545" y="349" width="3" height="2" fill="#0000ff"/>
<rect x="549" y="333" width="1" height="22" fill="#0000ff"/>
<rect x="548" y="341" width="3" height="10" fill="#0000ff"/>
<rect x="553" y="338" width="1" height="12" fill="#0000ff"/>
<rect x="552" y="340" width="3" height="2" fill="#0000ff"/>
<rect x="556" y="341" width="1" height="10" fill="#0000ff"/>
<rect x="555" y="346" width="3" height="2" fill="#0000ff"/>
<rect x="559" y="315" width="1" height="17" fill="#0000ff"/>
<rect x="558" y="317" width="3" height="15" fill="#0000ff"/>
<rect x="563" y="302" width="1" height="14" fill="#ff0000"/>
<rect x="562" y="302" width="3" height="12" fill="#ff0000"/>
<rect x="566" y="301" width="1" height="14" fill="#ff0000"/>
<rect x="565" y="305" width="3" height="2" fill="#ff0000"/>
<rect x="569" y="301" width="1" height="12" fill="#ff0000"/>
<rect x="568" y="305" width="3" height="2" fill="#ff0000"/>
<rect x="573" y="293" width="1" height="20" fill="#0000ff"/>
<rect x="572" y="296" width="3" height="8" fill="#0000ff"/>
<rect x="576" y="287" width="1" height="13" fill="#0000ff"/>
<rect x="575" y="287" width="3" height="13" fill="#0000ff"/>
<rect x="580" y="290" width="1" height="24" fill="#ff0000"/>
<rect x="579" y="290" width="3" height="23" fill="#ff0000"/>
<rect x="583" y="299" width="1" height="31" fill="#ff0000"/>
<rect x="582" y="307" width="3" height="19" fill="#ff0000"/>
<rect x="586" y="338" width="1" height="15" fill="#0000ff"/>
<rect x="585" y="340" width="3" height="6" fill="#0000ff"/>
<rect x="590" y="332" width="1" height="15" fill="#ff0000"/>
<rect x="589" y="341" width="3" height="2" fill="#ff0000"/>
<rect x="593" y="332" width="1" height="26" fill="#0000ff"/>
<rect x="592" y="339" width="3" height="19" fill="#0000ff"/>
<rect x="596" y="336" width="1" height="11" fill="#0000ff"/>
<rect x="595" y="337" width="3" height="6" fill="#0000ff"/>
<rect x="600" y="327" width="1" height="23" fill="#ff0000"/>
<rect x="599" y="335" width="3" height="11" fill="#ff0000"/>
<rect x="603" y="325" width="1" height="19" fill="#ff0000"/>
<rect x="602" y="341" width="3" height="2" fill="#ff0000"/>
<rect x="606" y="348" width="1" height="10" fill="#0000ff"/>
<rect x="605" y="349" width="3" height="4" fill="#0000ff"/>
<rect x="610" y="345" width="1" height="15" fill="#ff0000"/>
<rect x="609" y="351" width="3" height="5" fill="#ff0000"/>
<rect x="613" y="353" width="1" height="22" fill="#ff0000"/>
<rect x="612" y="366" width="3" height="9" fill="#ff0000"/>
<rect x="616" y="373" width="1" height="12" fill="#0000ff"/>
<rect x="615" y="376" width="3" height="3" fill="#0000ff"/>
<rect x="620" y="373" width="1" height="7" fill="#0000ff"/>
<rect x="619" y="377" width="3" height="2" fill="#0000ff"/>
<rect x="623" y="373" width="1" height="8" fill="#0000ff"/>
<rect x="622" y="377" width="3" height="4" fill="#0000ff"/>
<rect x="626" y="361" width="1" height="12" fill="#ff0000"/>
<rect x="625" y="363" width="3" height="6" fill="#ff0000"/>
<rect x="630" y="378" width="1" height="17" fill="#0000ff"/>
<rect x="629" y="382" width="3" height="2" fill="#0000ff"/>
<rect x="633" y="374" width="1" height="9" fill="#0000ff"/>
<rect x="632" y="376" width="3" height="5" fill="#0000ff"/>
<rect x="636" y="353" width="1" height="9" fill="#0000ff"/>
<rect x="635" y="357" width="3" height="2" fill="#0000ff"/>
<rect x="640" y="346" width="1" height="12" fill="#0000ff"/>
<rect x="639" y="350" width="3" height="5" fill="#0000ff"/>
<rect x="643" y="318" width="1" height="19" fill="#0000ff"/>
<rect x="642" y="321" width="3" height="16" fill="#0000ff"/>
<rect x="650" y="332" width="1" height="11" fill="#ff0000"/>
<rect x="649" y="332" width="3" height="10" fill="#ff0000"/>
<rect x="653" y="329" width="1" height="10" fill="#0000ff"/>
<rect x="652" y="334" width="3" height="2" fill="#0000ff"/>
<rect x="657" y="323" width="1" height="18" fill="#ff0000"/>
<rect x="656" y="324" width="3" height="5" fill="#ff0000"/>
<rect x="646" y="315" width="1" height="9" fill="#ff0000"/>
<rect x="645" y="316" width="3" height="2" fill="#ff0000"/>
<rect x="660" y="294" width="1" height="25" fill="#0000ff"/>
<rect x="659" y="298" width="3" height="21" fill="#0000ff"/>
<rect x="663" y="290" width="1" height="8" fill="#ff0000"/>
<rect x="662" y="290" width="3" height="6" fill="#ff0000"/>
<rect x="667" y="286" width="1" height="14" fill="#ff0000"/>
<rect x="666" y="286" width="3" height="8" fill="#ff0000"/>
<rect x="670" y="293" width="1" height="15" fill="#0000ff"/>
<rect x="669" y="294" width="3" height="2" fill="#0000ff"/>
<rect x="673" y="273" width="1" height="21" fill="#0000ff"/>
<rect x="672" y="274" width="3" height="18" fill="#0000ff"/>
<rect x="677" y="271" width="1" height="11" fill="#0000ff"/>
<rect x="676" y="274" width="3" height="5" fill="#0000ff"/>
<rect x="680" y="259" width="1" height="16" fill="#ff0000"/>
<rect x="679" y="263" width="3" height="9" fill="#ff0000"/>
<rect x="683" y="255" width="1" height="17" fill="#ff0000"/>
<rect x="682" y="266" width="3" height="3" fill="#ff0000"/>
<rect x="690" y="260" width="1" height="15" fill="#0000ff"/>
<rect x="689" y="263" width="3" height="12" fill="#0000ff"/>
<rect x="693" y="241" width="1" height="9" fill="#ff0000"/>
<rect x="692" y="245" width="3" height="2" fill="#ff0000"/>
<rect x="697" y="244" width="1" height="21" fill="#ff0000"/>
<rect x="696" y="247" width="3" height="18" fill="#ff0000"/>
<rect x="700" y="239" width="1" height="11" fill="#0000ff"/>
<rect x="699" y="243" width="3" height="6" fill="#0000ff"/>
<rect x="703" y="243" width="1" height="13" fill="#0000ff"/>
<rect x="702" y="245" width="3" height="5" fill="#0000ff"/>
<rect x="710" y="216" width="1" height="16" fill="#0000ff"/>
<rect x="709" y="225" width="3" height="7" fill="#0000ff"/>
<rect x="713" y="221" width="1" height="13" fill="#0000ff"/>
<rect x="712" y="224" width="3" height="9" fill="#0000ff"/>
<rect x="717" y="194" width="1" height="12" fill="#ff0000"/>
<rect x="716" y="196" width="3" height="9" fill="#ff0000"/>
<rect x="720" y="196" width="1" height="13" fill="#ff0000"/>
<rect x="719" y="196" width="3" height="9" fill="#ff0000"/>
<rect x="723" y="189" width="1" height="19" fill="#0000ff"/>
<rect x="722" y="200" width="3" height="7" fill="#0000ff"/>
<rect x="727" y="173" width="1" height="12" fill="#0000ff"/>
<rect x="726" y="180" width="3" height="4" fill="#0000ff"/>
<rect x="730" y="177" width="1" height="15" fill="#ff0000"/>
<rect x="729" y="184" width="3" height="3" fill="#ff0000"/>
<rect x="734" y="160" width="1" height="33" fill="#0000ff"/>
<rect x="733" y="161" width="3" height="10" fill="#0000ff"/>
<rect x="737" y="130" width="1" height="20" fill="#0000ff"/>
<rect x="736" y="132" width="3" height="13" fill="#0000ff"/>
<rect x="740" y="131" width="1" height="15" fill="#0000ff"/>
<rect x="739" y="139" width="3" height="2" fill="#0000ff"/>
<rect x="743" y="142" width="1" height="20" fill="#ff0000"/>
<rect x="742" y="144" width="3" height="18" fill="#ff0000"/>
<rect x="747" y="138" width="1" height="17" fill="#0000ff"/>
<rect x="746" y="138" width="3" height="17" fill="#0000ff"/>
<rect x="750" y="144" width="1" height="29" fill="#0000ff"/>
<rect x="749" y="154" width="3" height="11" fill="#0000ff"/>
<rect x="754" y="140" width="1" height="22" fill="#ff0000"/>
<rect x="753" y="140" width="3" height="8" fill="#ff0000"/>
<rect x="757" y="146" width="1" height="15" fill="#ff0000"/>
<rect x="756" y="147" width="3" height="9" fill="#ff0000"/>
<rect x="760" y="137" width="1" height="20" fill="#0000ff"/>
<rect x="759" y="149" width="3" height="6" fill="#0000ff"/>
<rect x="764" y="141" width="1" height="14" fill="#ff0000"/>
<rect x="763" y="141" width="3" height="10" fill="#ff0000"/>
<rect x="767" y="142" width="1" height="43" fill="#ff0000"/>
<rect x="766" y="155" width="3" height="30" fill="#ff0000"/>
<rect x="770" y="174" width="1" height="12" fill="#ff0000"/>
<rect x="769" y="174" width="3" height="7" fill="#ff0000"/>
<rect x="774" y="179" width="1" height="26" fill="#ff0000"/>
<rect x="773" y="183" width="3" height="7" fill="#ff0000"/>
<rect x="777" y="146" width="1" height="23" fill="#0000ff"/>
<rect x="776" y="147" width="3" height="22" fill="#0000ff"/>
<rect x="780" y="141" width="1" height="12" fill="#0000ff"/>
<rect x="779" y="145" width="3" height="6" fill="#0000ff"/>
<rect x="784" y="108" width="1" height="36" fill="#0000ff"/>
<rect x="783" y="109" width="3" height="26" fill="#0000ff"/>
<rect x="787" y="79" width="1" height="14" fill="#0000ff"/>
<rect x="786" y="80" width="3" height="13" fill="#0000ff"/>
<rect x="790" y="50" width="1" height="15" fill="#ff0000"/>
<rect x="789" y="52" width="3" height="3" fill="#ff0000"/>
<rect x="794" y="45" width="1" height="20" fill="#0000ff"/>
<rect x="793" y="46" width="3" height="12" fill="#0000ff"/>
<rect x="797" y="47" width="1" height="20" fill="#ff0000"/>
<rect x="796" y="55" width="3" height="12" fill="#ff0000"/>
<rect x="800" y="68" width="1" height="20" fill="#ff0000"/>
<rect x="799" y="69" width="3" height="14" fill="#ff0000"/>
<rect x="804" y="53" width="1" height="29" fill="#0000ff"/>
<rect x="803" y="67" width="3" height="9" fill="#0000ff"/>
<rect x="807" y="74" width="1" height="32" fill="#ff0000"/>
<rect x="806" y="90" width="3" height="14" fill="#ff0000"/>
<rect x="811" y="91" width="1" height="29" fill="#ff0000"/>
<rect x="810" y="92" width="3" height="27" fill="#ff0000"/>
<rect x="814" y="114" width="1" height="37" fill="#ff0000"/>
<rect x="813" y="120" width="3" height="25" fill="#ff0000"/>
<rect x="817" y="149" width="1" height="32" fill="#ff0000"/>
<rect x="816" y="163" width="3" height="18" fill="#ff0000"/>
<rect x="821" y="145" width="1" height="26" fill="#0000ff"/>
<rect x="820" y="148" width="3" height="16" fill="#0000ff"/>
<rect x="824" y="144" width="1" height="32" fill="#ff0000"/>
<rect x="823" y="149" width="3" height="2" fill="#ff0000"/>
<rect x="827" y="151" width="1" height="13" fill="#0000ff"/>
<rect x="826" y="156" width="3" height="3" fill="#0000ff"/>
<rect x="831" y="172" width="1" height="33" fill="#ff0000"/>
<rect x="830" y="174" width="3" height="31" fill="#ff0000"/>
<rect x="834" y="183" width="1" height="15" fill="#ff0000"/>
<rect x="833" y="188" width="3" height="5" fill="#ff0000"/>
<rect x="837" y="175" width="1" height="18" fill="#ff0000"/>
<rect x="836" y="188" width="3" height="5" fill="#ff0000"/>
<rect x="841" y="188" width="1" height="25" fill="#ff0000"/>
<rect x="840" y="196" width="3" height="10" fill="#ff0000"/>
<rect x="844" y="182" width="1" height="30" fill="#0000ff"/>
<rect x="843" y="184" width="3" height="26" fill="#0000ff"/>
<rect x="847" y="181" width="1" height="27" fill="#ff0000"/>
<rect x="846" y="187" width="3" height="10" fill="#ff0000"/>
<rect x="851" y="171" width="1" height="37" fill="#0000ff"/>
<rect x="850" y="177" width="3" height="22" fill="#0000ff"/>
<rect x="854" y="153" width="1" height="14" fill="#ff0000"/>
<rect x="853" y="154" width="3" height="9" fill="#ff0000"/>
<rect x="857" y="150" width="1" height="24" fill="#ff0000"/>
<rect x="856" y="154" width="3" height="20" fill="#ff0000"/>
<rect x="861" y="150" width="1" height="30" fill="#ff0000"/>
<rect x="860" y="158" width="3" height="22" fill="#ff0000"/>
<rect x="864" y="160" width="1" height="28" fill="#0000ff"/>
<rect x="863" y="164" width="3" height="20" fill="#0000ff"/>
<rect x="867" y="168" width="1" height="28" fill="#ff0000"/>
<rect x="866" y="169" width="3" height="21" fill="#ff0000"/>
<rect x="871" y="176" width="1" height="14" fill="#0000ff"/>
<rect x="870" y="182" width="3" height="2" fill="#0000ff"/>
<rect x="874" y="181" width="1" height="18" fill="#0000ff"/>
<rect x="873" y="184" width="3" height="6" fill="#0000ff"/>
<rect x="877" y="159" width="1" height="19" fill="#ff0000"/>
<rect x="876" y="169" width="3" height="4" fill="#ff0000"/>
<rect x="881" y="162" width="1" height="8" fill="#ff0000"/>
<rect x="880" y="162" width="3" height="2" fill="#ff0000"/>
<rect x="884" y="168" width="1" height="37" fill="#ff0000"/>
<rect x="883" y="168" width="3" height="31" fill="#ff0000"/>
<rect x="888" y="197" width="1" height="30" fill="#ff0000"/>
<rect x="887" y="200" width="3" height="22" fill="#ff0000"/>
</svg>
<div class="t" style="left:18px;top:2px;font-size:16px;line-height:16px;transform:scale(0.897,0.92);transform-origin:0 0">Hong Kong Hang Seng Index (HSI) 22668.8 <span style="color:#cc0000">-306.57</span></div>
<div class="t" style="left:648px;top:2px;font-size:16px;line-height:16px;transform:scale(0.94,0.92);transform-origin:0 0">www.fullermoney.com</div>
<div class="t" style="left:814px;top:2px;font-size:16px;line-height:16px;transform:scale(0.9,0.92);transform-origin:0 0">16 Dec 2010</div>
<div class="t" style="left:22px;top:28px;color:#0000ee;font-size:14px">Daily</div>
<div class="yl" style="top:38px">25000</div>
<div class="yl" style="top:114px">24000</div>
<div class="yl" style="top:190px">23000</div>
<div class="yl" style="top:266px">22000</div>
<div class="yl" style="top:342px">21000</div>
<div class="yl" style="top:418px">20000</div>
<div class="yl" style="top:494px">19000</div>
<div class="xl" style="left:26px">2010</div>
<div class="xl" style="left:94px">Feb</div>
<div class="xl" style="left:161px">Mar</div>
<div class="xl" style="left:238px">Apr</div>
<div class="xl" style="left:312px">May</div>
<div class="xl" style="left:382px">Jun</div>
<div class="xl" style="left:456px">Jul</div>
<div class="xl" style="left:533px">Aug</div>
<div class="xl" style="left:603px">Sep</div>
<div class="xl" style="left:677px">Oct</div>
<div class="xl" style="left:747px">Nov</div>
<div class="xl" style="left:821px">Dec</div>
<div class="t" style="left:760px;top:544px;font-size:9.5px;color:#888;transform:scaleX(0.985);transform-origin:0 0">&copy; 2010 Stockcube Research Ltd</div>
</body></html>
